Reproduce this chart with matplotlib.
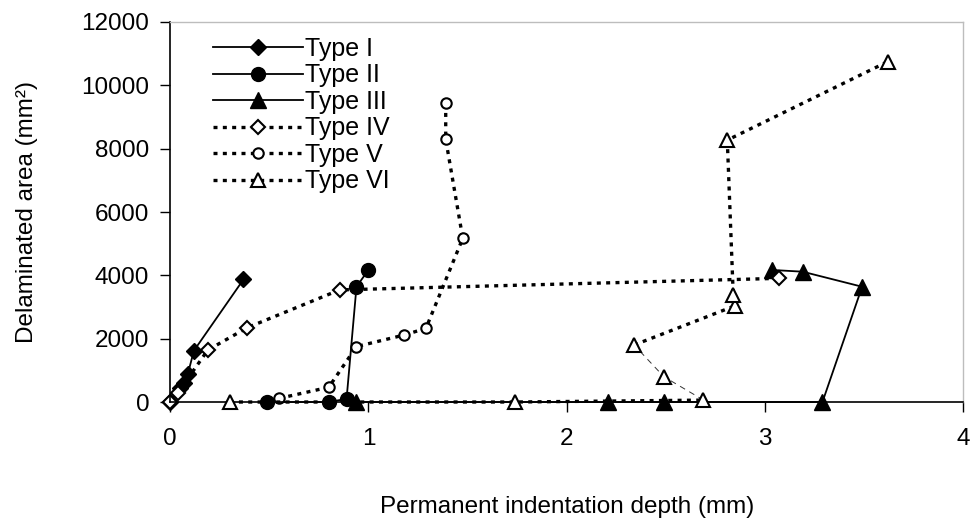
import matplotlib.pyplot as plt

plt.rcParams['font.family'] = ['Liberation Sans', 'DejaVu Sans']

# Data (depth in mm, area in mm^2)
type1_x = [0.0, 0.05, 0.07, 0.09, 0.12, 0.37]
type1_y = [0, 450, 600, 900, 1620, 3870]

type2_x = [0.49, 0.80, 0.89, 0.94, 1.00]
type2_y = [0, 0, 100, 3640, 4170]

type3_x = [0.94, 2.21, 2.49, 3.29, 3.49, 3.19, 3.035]
type3_y = [0, 0, 0, 0, 3640, 4115, 4170]

type4_x = [0.0, 0.04, 0.19, 0.39, 0.855, 3.07]
type4_y = [0, 300, 1640, 2350, 3540, 3905]

type5_x = [0.55, 0.80, 0.94, 1.18, 1.29, 1.476, 1.39, 1.39]
type5_y = [115, 465, 1750, 2115, 2325, 5170, 8295, 9430]

type6_x = [0.30, 1.74, 2.69, 2.49, 2.34, 2.85, 2.84, 2.81, 3.62]
type6_y = [0, 0, 60, 800, 1800, 3040, 3380, 8270, 10750]

labels = ['Type I', 'Type II', 'Type III', 'Type IV', 'Type V', 'Type VI']
x_ticks = [0, 1, 2, 3, 4]
y_ticks = [0, 2000, 4000, 6000, 8000, 10000, 12000]

fig = plt.figure(figsize=(9.72, 5.30), dpi=100)
ax = fig.add_axes([0.175, 0.2415, 0.816, 0.717])

solid = dict(color='black', lw=1.3, clip_on=False)
dotted = dict(color='black', lw=2.4, linestyle=(0, (1.2, 1.6)), clip_on=False)

ax.plot(type1_x, type1_y, marker='D', ms=8.5, mfc='black', mec='black', label=labels[0], **solid)
ax.plot(type2_x, type2_y, marker='o', ms=10, mfc='black', mec='black', label=labels[1], **solid)
ax.plot(type3_x, type3_y, marker='^', ms=11, mfc='black', mec='black', label=labels[2], **solid)

ax.plot(type4_x, type4_y, marker='D', ms=7.5, mfc='white', mec='black', mew=1.5, label=labels[3], **dotted)
ax.plot(type5_x, type5_y, marker='o', ms=7.5, mfc='white', mec='black', mew=1.5, label=labels[4], **dotted)

# Type VI: thick dotted except the thin curved part near the bottom
ax.plot(type6_x[:3], type6_y[:3], **dotted, zorder=2)
ax.plot(type6_x[2:5], type6_y[2:5], color='#333333', lw=0.7, linestyle=(0, (6, 5)), zorder=2)
ax.plot(type6_x[4:], type6_y[4:], **dotted, zorder=2)
ax.plot(type6_x, type6_y, linestyle='none', marker='^', ms=10, mfc='white', mec='black',
        mew=1.5, clip_on=False, zorder=3)
ax.plot([], [], marker='^', ms=10, mfc='white', mec='black', mew=1.5, label=labels[5], **dotted)

ax.set_xlim(0, 4)
ax.set_ylim(0, 12000)
ax.set_xticks(x_ticks)
ax.set_yticks(y_ticks)
ax.tick_params(axis='both', direction='out', length=7, width=1, labelsize=17.5, colors='black')
ax.tick_params(axis='x', pad=12)
ax.tick_params(axis='y', pad=8)

for side in ['top', 'right']:
    ax.spines[side].set_color('#bdbdbd')
    ax.spines[side].set_linewidth(1.0)
for side in ['left', 'bottom']:
    ax.spines[side].set_color('black')
    ax.spines[side].set_linewidth(1.2)

ax.set_xlabel('Permanent indentation depth (mm)', fontsize=17.5, labelpad=33)
ax.set_ylabel('Delaminated area (mm²)', fontsize=17.5, labelpad=31)

ax.legend(loc='upper left', bbox_to_anchor=(0.035, 1.0), frameon=False, fontsize=18,
          handlelength=3.6, handletextpad=0.1, labelspacing=0.1, borderaxespad=0.2)

fig.savefig('out.png', dpi=100)
